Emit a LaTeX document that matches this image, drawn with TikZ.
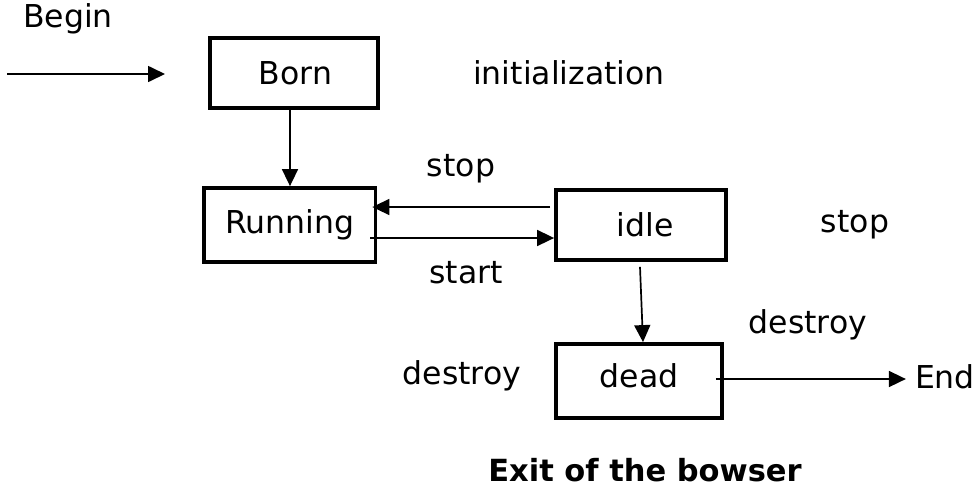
\documentclass[tikz,border=0pt]{standalone}
\usepackage{fontspec}
\setmainfont{DejaVu Sans}
\usetikzlibrary{arrows.meta,calc}
\begin{document}
\begin{tikzpicture}[x=1pt,y=-1pt,
  state/.style={draw=black,line width=3.8pt,rectangle,inner sep=0pt,
    font=\fontsize{31.5}{36}\selectfont},
  lbl/.style={inner sep=0pt,font=\fontsize{31.5}{36}\selectfont},
  flow/.style={line width=1.7pt,-{Triangle[length=17pt,width=16pt]}}]
  \useasboundingbox (0,0) rectangle (976,499);
  \fill[white] (0,0) rectangle (976,499);

  % states
  \node[state,minimum width=168pt,minimum height=70pt] (born) at (294,73) {\hspace{3pt}Born};
  \node[state,minimum width=171pt,minimum height=74pt] (run) at (290,225) {Running\hspace{10pt}};
  \node[state,minimum width=170pt,minimum height=70pt] (idle) at (641,225) {\hspace{8pt}idle};
  \node[state,minimum width=166pt,minimum height=74pt] (dead) at (639,381) {\raisebox{5pt}[\height][\depth]{dead}\hspace{4pt}};
  % heavier left edge of the Running box
  \draw[line width=4pt] ($(run.north west)+(1.5,0)$) -- ($(run.south west)+(1.5,0)$);

  % labels
  \node[lbl] (begin) at (68,19) {Begin};
  \node[lbl] (init) at (569,73) {initialization};
  \node[lbl] (stopA) at (461,169) {stop};
  \node[lbl] (startL) at (466,273) {start};
  \node[lbl] (stopB) at (855,225) {stop};
  \node[lbl] (destR) at (808,325) {destroy};
  \node[lbl] (destL) at (462,376) {destroy};
  \node[lbl] (endl) at (945,377) {End};
  \node[inner sep=0pt,font=\fontsize{30.5}{36}\selectfont\bfseries] (exit) at (645,470) {Exit of the bowser};

  % connectors
  \coordinate (src) at (7,74);
  \draw[flow] (src) -- (165,74) coordinate (bornin);
  \draw[flow] (born.south -| 290,0) -- (run.north -| 290,0);
  \draw[flow] ($(idle.west)+(-4,-18)$) -- ($(run.east)+(-5,-18)$);
  \draw[flow] ($(run.east)+(-7,13)$) -- ($(idle.west)+(0,13)$);
  \draw[flow] ($(idle.south)+(-1,5)$) -- ($(dead.north)+(4,0)$);
  \draw[flow] ($(dead.east)+(-8,-2)$) -- ($(endl.west)+(-9,2)$);
\end{tikzpicture}
\end{document}
